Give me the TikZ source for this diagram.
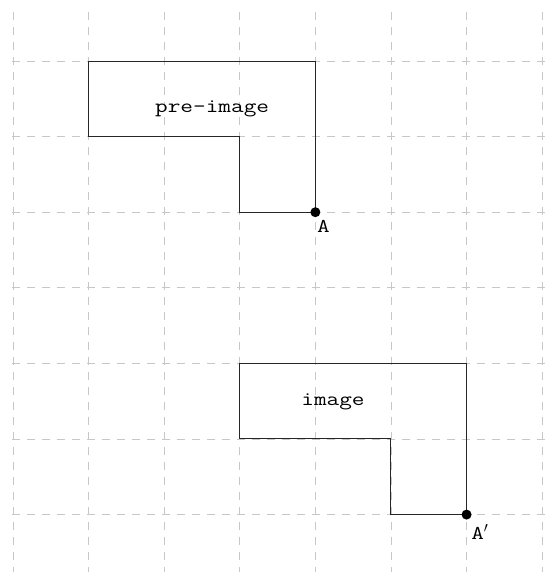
\documentclass[tikz,border=0pt]{standalone}
\usepackage{fontspec}
\newfontfamily\courfam[FakeStretch=1.26]{lmmono12-regular.otf}
\newcommand{\courfont}{\courfam\fontsize{19.5}{22}\selectfont}
\begin{document}
\begin{tikzpicture}[x=75.6pt,y=-75.6pt,
  gridline/.style={draw=black!22,line width=0.9pt,dash pattern=on 8pt off 7pt},
  outline/.style={draw=black!85,line width=1pt},
  lbl/.style={font=\courfont,inner sep=0pt,anchor=base},
  ptlbl/.style={font=\courfont,inner sep=0pt,anchor=base west},
  dot/.style={circle,fill=black,inner sep=0pt,minimum size=10pt}]
\useasboundingbox (-0.172,-0.807) rectangle (7.116,6.786);
\foreach \i in {0,...,7} \draw[gridline] (\i,-0.648) -- (\i,6.76);
\foreach \j in {0,...,6} \draw[gridline] (-0.013,\j) -- (7.08,\j);
\draw[outline] (1,0) -- (4,0) -- (4,2) -- (3,2) -- (3,1) -- (1,1) -- cycle;
\draw[outline] (3,4) -- (6,4) -- (6,6) -- (5,6) -- (5,5) -- (3,5) -- cycle;
\node[dot] (A) at (4,2) {};
\node[dot] (Ap) at (6,6) {};
\node[lbl] (pre) at (2.634,0.675) {pre-image};
\node[lbl] (img) at (4.233,4.563) {image};
\node[ptlbl] (Alab) at (4.02,2.275) {A};
\node[ptlbl] (Aplab) at (6.06,6.336) {A$'$};
\end{tikzpicture}
\end{document}
